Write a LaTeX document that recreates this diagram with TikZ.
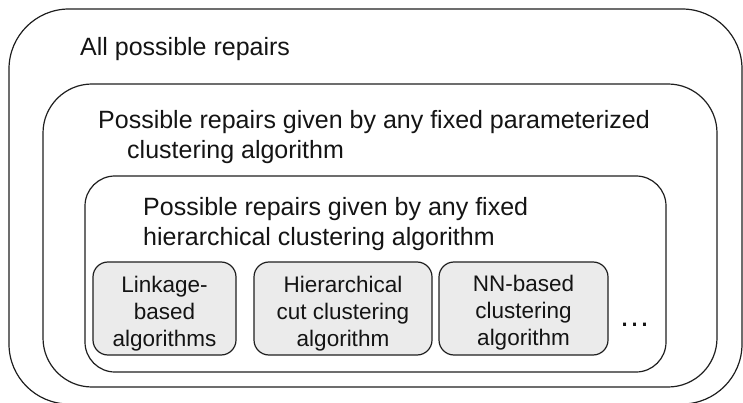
\documentclass[tikz,border=0pt]{standalone}
\usepackage{fontspec}
\setmainfont{Liberation Sans}
\begin{document}
\begin{tikzpicture}[x=1pt,y=-1pt,
  frame/.style={draw=black!88,line width=1.2pt,inner sep=0pt,outer sep=0pt},
  algbox/.style={frame,fill=black!8,rounded corners=15pt,minimum height=93pt},
  bigtext/.style={font=\fontsize{25}{30}\selectfont,inner sep=0pt,anchor=base west,text=black!92},
  algtext/.style={font=\fontsize{22.5}{27}\selectfont,inner sep=0pt,align=center,text=black!92}]
\useasboundingbox (0,0) rectangle (743,403);
% nested sets of repairs
\node[frame,rounded corners=60pt,minimum width=733pt,minimum height=395pt] (all) at (375.5,206.5) {};
\node[frame,rounded corners=49pt,minimum width=674pt,minimum height=303pt] (param) at (380,235.5) {};
\node[frame,rounded corners=30pt,minimum width=581pt,minimum height=196pt] (hier) at (375.5,274) {};
% captions of the sets
\node[bigtext] (allT) at (80,56) {All possible repairs};
\node[bigtext] (paramA) at (98,129) {Possible repairs given by any fixed parameterized};
\node[bigtext] (paramB) at (127,159) {clustering algorithm};
\node[bigtext] (hierA) at (143,215) {Possible repairs given by any fixed};
\node[bigtext] (hierB) at (143,245) {hierarchical clustering algorithm};
% individual algorithm families
\node[algbox,minimum width=143pt] (lk) at (164.5,308.5) {};
\node[algbox,minimum width=178pt] (hc) at (343,308.5) {};
\node[algbox,minimum width=169pt] (nn) at (523.5,308.5) {};
\node[algtext] (lkT) at ([yshift=-5.5pt]lk.center) {Linkage-\\based\\algorithms};
\node[algtext] (hcT) at ([yshift=-5.5pt]hc.center) {Hierarchical\\cut clustering\\algorithm};
\node[algtext] (nnT) at ([yshift=-4.5pt]nn.center) {NN-based\\clustering\\algorithm};
\node[font=\fontsize{31.5}{36}\selectfont,inner sep=0pt,anchor=base,text=black!92] (more) at (634.5,326) {…};
\end{tikzpicture}
\end{document}
